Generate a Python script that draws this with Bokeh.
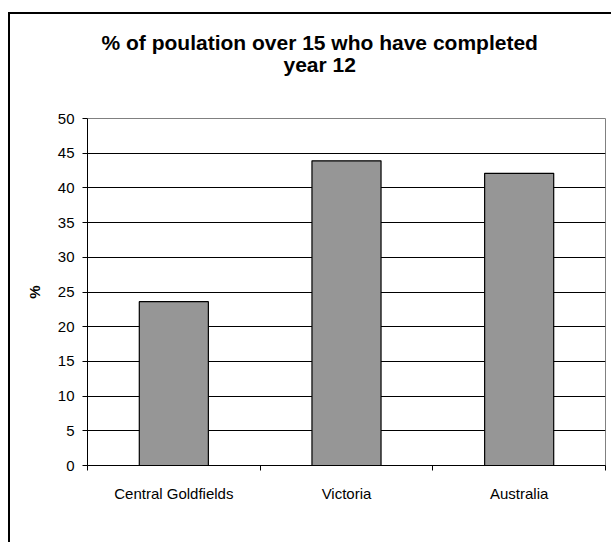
from bokeh.plotting import figure
from bokeh.models import Range1d, FixedTicker, Title, ColumnDataSource, LinearAxis
from bokeh.embed import file_html
from bokeh.resources import INLINE

# ---- data ----
categories = ["Central Goldfields", "Victoria", "Australia"]
values = [23.6, 43.9, 42.1]
y_ticks = [0, 5, 10, 15, 20, 25, 30, 35, 40, 45, 50]
title_lines = ["% of poulation over 15 who have completed", "year 12"]
y_label = "%"

positions = [i + 0.5 for i in range(len(categories))]
boundaries = [i for i in range(len(categories) + 1)]

FONT = "Liberation Sans"

p = figure(width=603, height=530, output_backend="svg", toolbar_location=None,
           x_range=Range1d(0, len(categories)), y_range=Range1d(0, 50),
           min_border_left=77, min_border_right=8, min_border_top=104, min_border_bottom=79)
p.styles = {"border-left": "2px solid #000000", "border-top": "2px solid #000000",
            "margin-left": "8px", "margin-top": "12px"}
p.background_fill_color = "white"
p.border_fill_color = "white"
p.outline_line_color = "#808080"
p.outline_line_width = 1

src = ColumnDataSource(dict(x=positions, top=values, name=categories))
p.vbar(x="x", top="top", bottom=0, width=0.4, source=src,
       fill_color="#969696", line_color="#000000", line_width=1.2)

# grid
p.xgrid.visible = False
p.ygrid.ticker = FixedTicker(ticks=y_ticks[1:-1])
p.ygrid.grid_line_color = "#000000"
p.ygrid.grid_line_width = 1

# y axis
p.yaxis.ticker = FixedTicker(ticks=y_ticks)
p.yaxis.minor_tick_line_color = None
p.yaxis.major_tick_out = 5
p.yaxis.major_tick_in = 0
p.yaxis.axis_line_color = "#000000"
p.yaxis.major_tick_line_color = "#000000"
p.yaxis.major_label_text_font = FONT
p.yaxis.major_label_text_font_size = "15px"
p.yaxis.major_label_text_color = "#000000"
p.yaxis.major_label_standoff = 8
p.yaxis.axis_label = y_label
p.yaxis.axis_label_text_font = FONT
p.yaxis.axis_label_text_font_size = "15px"
p.yaxis.axis_label_text_font_style = "bold"
p.yaxis.axis_label_text_color = "#000000"
p.yaxis.axis_label_standoff = 12

# x axis
p.xaxis.ticker = FixedTicker(ticks=positions, minor_ticks=boundaries)
p.xaxis.major_label_overrides = {pos: c for pos, c in zip(positions, categories)}
p.xaxis.major_tick_out = 0
p.xaxis.major_tick_in = 0
p.xaxis.minor_tick_out = 5
p.xaxis.minor_tick_in = 0
p.xaxis.minor_tick_line_color = "#000000"
p.xaxis.axis_line_color = "#000000"
p.xaxis.major_label_text_font = FONT
p.xaxis.major_label_text_font_size = "15px"
p.xaxis.major_label_text_color = "#000000"
p.xaxis.major_label_standoff = 14

# invisible spacer between frame and title (white tick, no label)
spacer = LinearAxis(ticker=FixedTicker(ticks=[0]), axis_line_color=None,
                    major_tick_out=43, major_tick_in=0, major_tick_line_color="white",
                    minor_tick_out=0, minor_tick_in=0, minor_tick_line_color=None,
                    major_label_standoff=0, major_label_overrides={0: ""},
                    major_label_text_font_size="1px")
p.add_layout(spacer, "above")

# title lines (added nearest-first), left-aligned with offsets to centre them at x~318
for txt, so, off in zip(reversed(title_lines), [0, -7], [196, 14]):
    p.add_layout(Title(text=txt, align="left", offset=off, standoff=so,
                       text_font=FONT, text_font_size="21px", text_font_style="bold",
                       text_color="#000000"), "above")

open("out.html", "w").write(file_html(p, INLINE))
